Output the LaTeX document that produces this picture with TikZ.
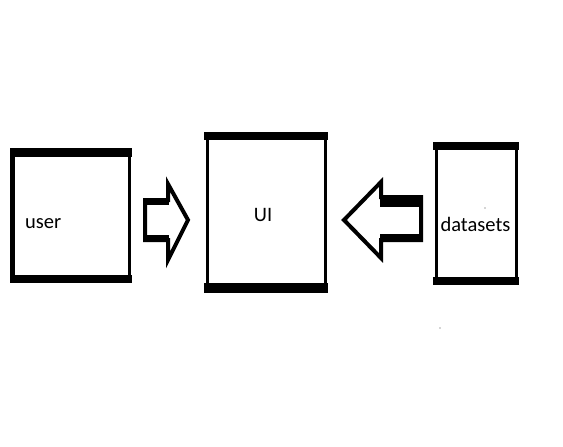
\documentclass[tikz,border=0pt]{standalone}
\usepackage{fontspec}
\setmainfont{Carlito}
\begin{document}
\begin{tikzpicture}[x=1pt,y=-1pt,
  box/.style={draw=black,line width=3pt,fill=white,inner sep=0pt,anchor=north west},
  band/.style={fill=black},
  lbl/.style={font=\fontsize{20.5}{24}\selectfont,inner sep=0pt},
  blockarrow/.style={draw=black,line width=4pt,line join=miter,fill=white}]
\useasboundingbox[fill=white] (0,0) rectangle (563,447);

% user box
\node[box,minimum width=116pt,minimum height=129pt] (user) at (11.5,149.5) {};
\fill[band] ([shift={(-1.5,-1.5)}]user.north west) rectangle ([shift={(1.5,7.5)}]user.north east);
\fill[band] ([shift={(-1.5,-6.5)}]user.south west) rectangle ([shift={(1.5,1.5)}]user.south east);
\fill[band] ([shift={(-1.5,-1.5)}]user.north west) rectangle ([shift={(2.5,1.5)}]user.south west);
\node[lbl,anchor=west] (userlbl) at (25,224) {user};

% UI box
\node[box,minimum width=118pt,minimum height=155pt] (ui) at (205.5,133.5) {};
\fill[band] ([shift={(-1.5,-1.5)}]ui.north west) rectangle ([shift={(1.5,6.5)}]ui.north east);
\fill[band] ([shift={(-1.5,-8.5)}]ui.south west) rectangle ([shift={(1.5,1.5)}]ui.south east);
\node[lbl] (uilbl) at (263,215) {UI};

% datasets box
\node[box,minimum width=80pt,minimum height=137pt] (ds) at (434.5,143.5) {};
\fill[band] ([shift={(-1.5,-1.5)}]ds.north west) rectangle ([shift={(1.5,6.5)}]ds.north east);
\fill[band] ([shift={(-1.5,-6.5)}]ds.south west) rectangle ([shift={(1.5,1.5)}]ds.south east);
\node[lbl] (dslbl) at (475.5,224) {datasets};

% right block arrow (user -> UI)
\draw[blockarrow] (145,200) -- (168,200) -- (168,184) -- (188,220) -- (168,260) -- (168,240) -- (145,240) -- cycle;
\fill[band] (143,198) rectangle (169,205);
\fill[band] (143,235) rectangle (169,242);

% left block arrow (datasets -> UI)
\draw[blockarrow] (421,197) -- (381,197) -- (381,182) -- (344,220) -- (381,258) -- (381,240) -- (421,240) -- cycle;
\fill[band] (380,195) rectangle (423,207);
\fill[band] (380,234) rectangle (423,242);

% stray dots
\fill[black!70] (485,208) circle (0.6);
\fill[black!70] (440,328) circle (0.7);
\end{tikzpicture}
\end{document}
